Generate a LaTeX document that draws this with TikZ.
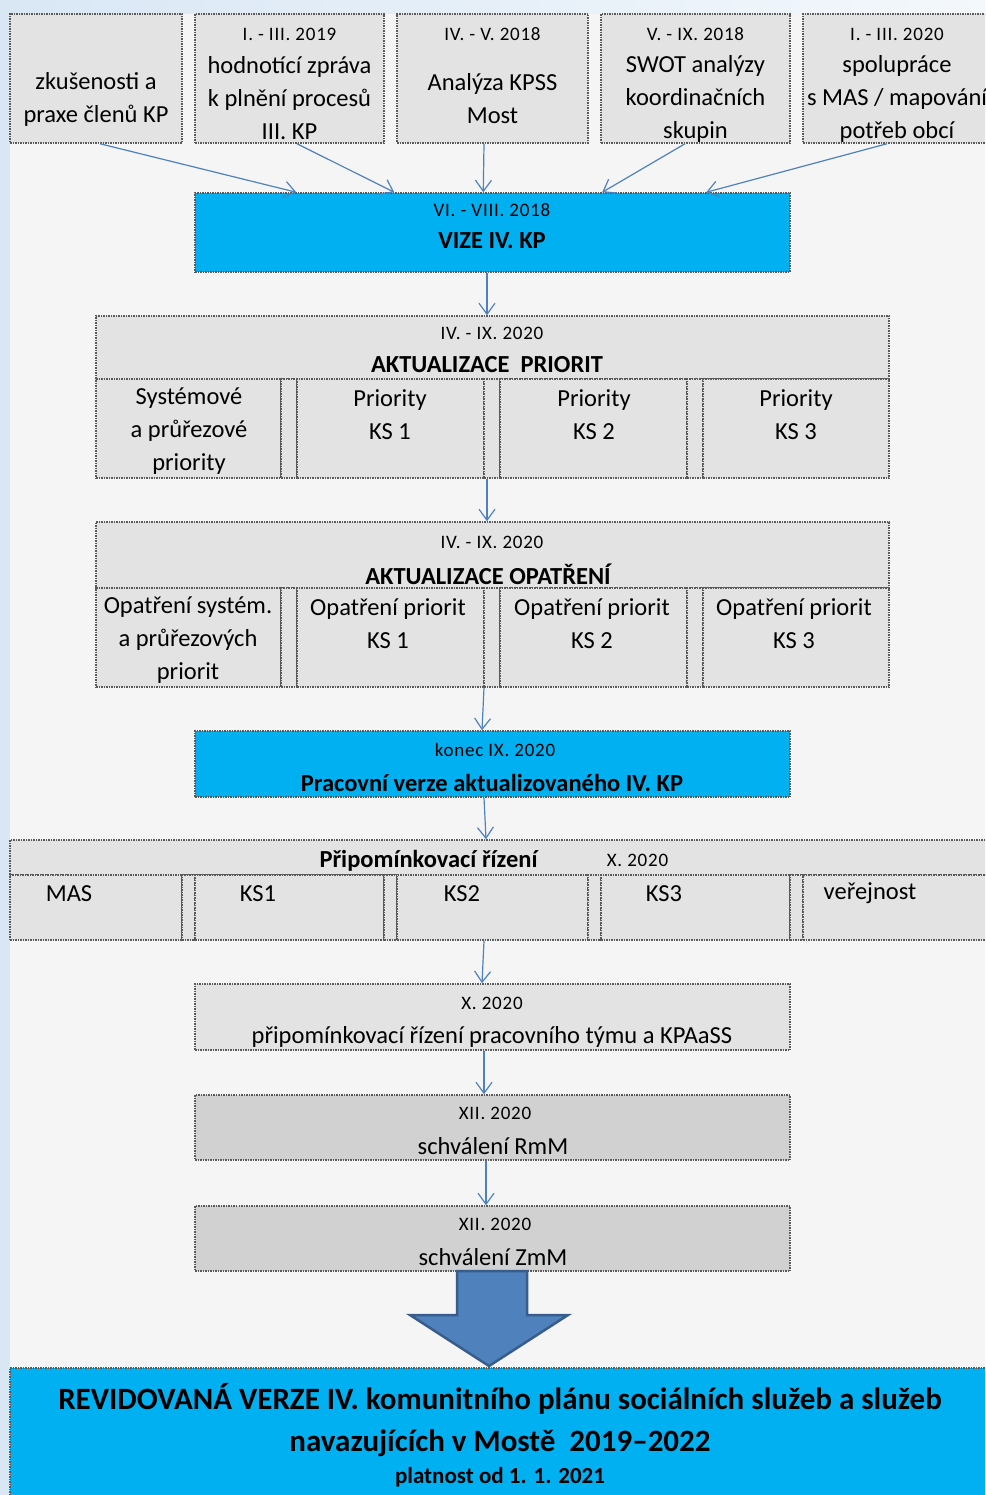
\documentclass[tikz,border=0pt]{standalone}
\usepackage{fontspec}
\setmainfont{Carlito}
\usetikzlibrary{arrows.meta}
\definecolor{bggray}{HTML}{F5F5F5}
\definecolor{stripblue}{HTML}{D9E7F5}
\definecolor{cellgray}{HTML}{E3E3E3}
\definecolor{cellgraydark}{HTML}{D1D1D1}
\definecolor{kpcyan}{HTML}{00B0F0}
\definecolor{arrowblue}{HTML}{4F81BD}
\definecolor{arrowblueedge}{HTML}{385D8A}
\begin{document}
\begin{tikzpicture}[x=1pt, y=-1pt,
  box/.style={draw=black!65, densely dotted, line width=1.5pt, fill=cellgray, inner sep=0pt},
  cyanbox/.style={box, fill=kpcyan},
  darkbox/.style={box, fill=cellgraydark},
  txt/.style={align=center, inner sep=0pt, font=\fontsize{24.5}{33}\selectfont},
  datetxt/.style={inner sep=0pt, font=\fontsize{19}{22}\selectfont\addfontfeature{LetterSpace=4}},
  headtxt/.style={inner sep=0pt, font=\fontsize{24.5}{28}\selectfont\bfseries},
  conn/.style={draw=arrowblue, line width=1.2pt, -{Straight Barb[length=11pt,width=16pt]}}]
\clip (0,0) rectangle (985,1495);
\fill[bggray] (0,0) rectangle (985,1495);
\fill[left color=stripblue, right color=stripblue!30!white] (0,0) rectangle (985,14);
\fill[stripblue] (0,0) rectangle (10,1495);

% sources
\node[box, minimum width=172, minimum height=129] (zk) at (96,78.5) {};
\node[box, minimum width=189, minimum height=129] (hz) at (289.5,78.5) {};
\node[box, minimum width=191, minimum height=129] (an) at (492.5,78.5) {};
\node[box, minimum width=189, minimum height=129] (sw) at (695.5,78.5) {};
\node[box, minimum width=187, minimum height=129] (sp) at (896.5,78.5) {};
\node[txt] (zkt) at (96,99) {zkušenosti a\\praxe členů KP};
\node[datetxt] (hzd) at (289.5,34) {I. - III. 2019};
\node[txt] (hzt) at (289.5,98.5) {hodnotící zpráva\\k plnění procesů\\III. KP};
\node[datetxt] (and) at (492.5,34) {IV. - V. 2018};
\node[txt] (ant) at (492.5,99) {Analýza KPSS\\Most};
\node[datetxt] (swd) at (695.5,34) {V. - IX. 2018};
\node[txt] (swt) at (695.5,98.5) {SWOT analýzy\\koordinačních\\skupin};
\node[datetxt] (spd) at (897,34) {I. - III. 2020};
\node[txt] (spt) at (897,98.5) {spolupráce\\s MAS / mapování\\potřeb obcí};

% vize
\node[cyanbox, minimum width=595, minimum height=79] (vize) at (492.5,232.5) {};
\node[datetxt] (vized) at (492,210) {VI. - VIII. 2018};
\node[headtxt] (vizet) at (492,241) {VIZE IV. KP};

% priority
\node[box, minimum width=793, minimum height=63] (ph) at (492.5,347.5) {};
\node[datetxt] (phd) at (492,333) {IV. - IX. 2020};
\node[headtxt] (pht) at (487,365) {AKTUALIZACE\ \ PRIORIT};
\node[box, minimum width=185, minimum height=99] (p1) at (188.5,428.5) {};
\node[box, minimum width=16, minimum height=99] (pg1) at (289,428.5) {};
\node[box, minimum width=187, minimum height=99] (p2) at (390.5,428.5) {};
\node[box, minimum width=16, minimum height=99] (pg2) at (492,428.5) {};
\node[box, minimum width=187, minimum height=99] (p3) at (593.5,428.5) {};
\node[box, minimum width=16, minimum height=99] (pg3) at (695,428.5) {};
\node[box, minimum width=186, minimum height=99] (p4) at (796,428.5) {};
\node[txt] (p1t) at (189,431.5) {Systémové\\a průřezové\\priority};
\node[txt] (p2t) at (390,415) {Priority\\KS 1};
\node[txt] (p3t) at (594,415) {Priority\\KS 2};
\node[txt] (p4t) at (796,415) {Priority\\KS 3};

% opatreni
\node[box, minimum width=793, minimum height=66] (oh) at (492.5,555) {};
\node[datetxt] (ohd) at (492,542) {IV. - IX. 2020};
\node[headtxt] (oht) at (488,574) {AKTUALIZACE OPATŘENÍ};
\node[box, minimum width=185, minimum height=99] (o1) at (188.5,637.5) {};
\node[box, minimum width=16, minimum height=99] (og1) at (289,637.5) {};
\node[box, minimum width=187, minimum height=99] (o2) at (390.5,637.5) {};
\node[box, minimum width=16, minimum height=99] (og2) at (492,637.5) {};
\node[box, minimum width=187, minimum height=99] (o3) at (593.5,637.5) {};
\node[box, minimum width=16, minimum height=99] (og3) at (695,637.5) {};
\node[box, minimum width=186, minimum height=99] (o4) at (796,637.5) {};
\node[txt] (o1t) at (188,640.5) {Opatření systém.\\a průřezových\\priorit};
\node[txt] (o2t) at (388,624) {Opatření priorit\\KS 1};
\node[txt] (o3t) at (592,624) {Opatření priorit\\KS 2};
\node[txt] (o4t) at (794,624) {Opatření priorit\\KS 3};

% pracovni verze
\node[cyanbox, minimum width=595, minimum height=66] (prac) at (492.5,764) {};
\node[datetxt] (pracd) at (495,750) {konec IX. 2020};
\node[headtxt] (pract) at (492,783) {Pracovní verze aktualizovaného IV. KP};

% pripominkovaci rizeni
\node[box, minimum width=980, minimum height=35] (rh) at (500,857.5) {};
\node[headtxt] (rht) at (428.5,861) {Připomínkovací řízení};
\node[datetxt] (rhd) at (637.5,860) {X. 2020};
\node[box, minimum width=172, minimum height=65] (r1) at (96,907.5) {};
\node[box, minimum width=13, minimum height=65] (rg1) at (188.5,907.5) {};
\node[box, minimum width=189, minimum height=65] (r2) at (289.5,907.5) {};
\node[box, minimum width=13, minimum height=65] (rg2) at (390.5,907.5) {};
\node[box, minimum width=191, minimum height=65] (r3) at (492.5,907.5) {};
\node[box, minimum width=13, minimum height=65] (rg3) at (594.5,907.5) {};
\node[box, minimum width=189, minimum height=65] (r4) at (695.5,907.5) {};
\node[box, minimum width=13, minimum height=65] (rg4) at (796.5,907.5) {};
\node[box, minimum width=187, minimum height=65] (r5) at (896.5,907.5) {};
\node[txt] (r1t) at (69,893.5) {MAS};
\node[txt] (r2t) at (258,893.5) {KS1};
\node[txt] (r3t) at (462,893.5) {KS2};
\node[txt] (r4t) at (664,893.5) {KS3};
\node[txt] (r5t) at (870,893.5) {veřejnost};

% tym, RmM, ZmM
\node[box, minimum width=595, minimum height=66] (tym) at (492.5,1017) {};
\node[datetxt] (tymd) at (492,1003) {X. 2020};
\node[txt] (tymt) at (492,1036.5) {připomínkovací řízení pracovního týmu a KPAaSS};
\node[darkbox, minimum width=595, minimum height=65] (rmm) at (492.5,1127.5) {};
\node[datetxt] (rmmd) at (495,1113) {XII. 2020};
\node[txt] (rmmt) at (493,1146.5) {schválení RmM};
\node[darkbox, minimum width=595, minimum height=65] (zmm) at (492.5,1238.5) {};
\node[datetxt] (zmmd) at (495,1224) {XII. 2020};
\node[txt] (zmmt) at (493,1257.5) {schválení ZmM};

% vysledek
\node[cyanbox, minimum width=980, minimum height=132] (rev) at (500,1434) {};
\node[align=center, inner sep=0pt, font=\fontsize{31}{42}\selectfont\bfseries] (revt) at (500,1420)
  {REVIDOVANÁ VERZE IV. komunitního plánu sociálních služeb a služeb\\navazujících v Mostě\ \ 2019–2022};
\node[inner sep=0pt, font=\fontsize{23}{26}\selectfont\bfseries] (revd) at (500,1477) {platnost od 1. 1. 2021};

% big arrow
\filldraw[fill=arrowblue, draw=arrowblueedge, line width=2.5pt, line join=miter]
  (457,1271) -- (527,1271) -- (527,1315) -- (568,1315) -- (489,1366) -- (410,1315) -- (457,1315) -- cycle;

% connectors
\draw[conn] ([xshift=4]zk.south) -- ([xshift=102]vize.north west);
\draw[conn] ([xshift=7.5]hz.south) -- ([xshift=200]vize.north west);
\draw[conn] ([xshift=-8.5]an.south) -- ([xshift=289]vize.north west);
\draw[conn] ([xshift=-10.5]sw.south) -- ([xshift=408]vize.north west);
\draw[conn] ([xshift=-9.5]sp.south) -- ([xshift=512]vize.north west);
\draw[conn] ([xshift=-5.5]vize.south) -- ([xshift=-5.5]ph.north);
\draw[conn] ([xshift=-5]pg2.south) -- ([xshift=-5.5]oh.north);
\draw[conn] ([xshift=-8]og2.south) -- ([xshift=-10.5]prac.north);
\draw[conn] ([xshift=-8.5]prac.south) -- ([xshift=-14]rh.north);
\draw[conn] ([xshift=-8.5]r3.south) -- ([xshift=-10.5]tym.north);
\draw[conn] ([xshift=-8.5]tym.south) -- ([xshift=-8.5]rmm.north);
\draw[conn] ([xshift=-6.5]rmm.south) -- ([xshift=-6.5]zmm.north);
\end{tikzpicture}
\end{document}
